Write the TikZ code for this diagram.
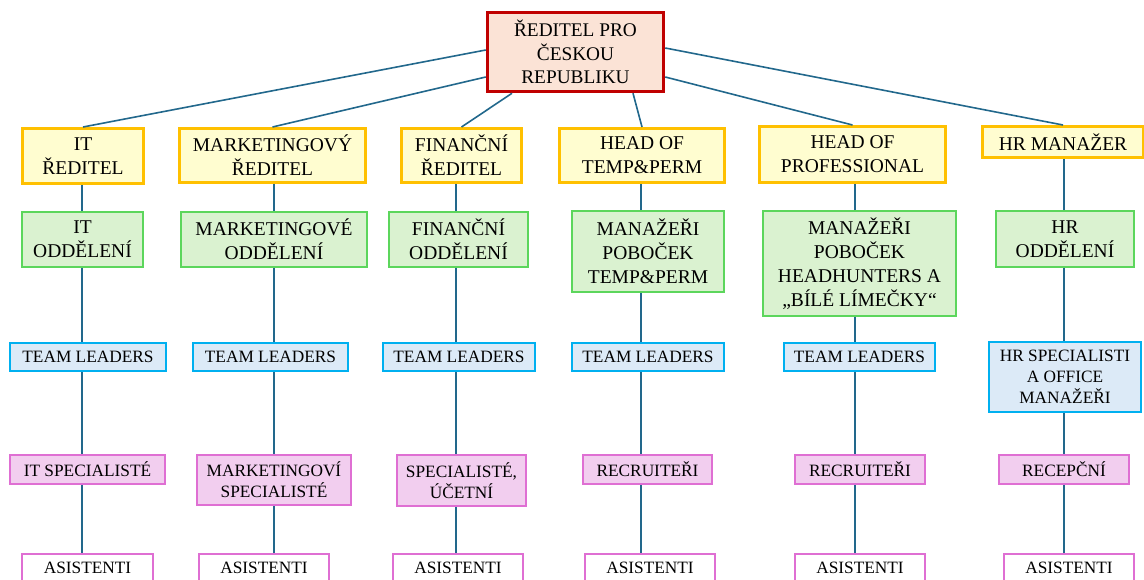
\documentclass[tikz,border=0pt]{standalone}
\usepackage{fontspec}
\setmainfont{Liberation Serif}
\usepackage{tikz}
\usetikzlibrary{calc}
\usepackage{xcolor}
\definecolor{orgRed}{HTML}{C00000}
\definecolor{orgPeach}{HTML}{FBE3D6}
\definecolor{orgGold}{HTML}{FFC000}
\definecolor{orgCream}{HTML}{FFFDD0}
\definecolor{orgGreen}{HTML}{5CD65C}
\definecolor{orgMint}{HTML}{DAF2D0}
\definecolor{orgCyan}{HTML}{00B0F0}
\definecolor{orgSky}{HTML}{DCEAF7}
\definecolor{orgPink}{HTML}{DF6FD3}
\definecolor{orgRose}{HTML}{F2CEEF}
\definecolor{orgLink}{HTML}{22688C}

\begin{document}
\begin{tikzpicture}[
    x=1pt, y=-1pt,
    ceo/.style={draw=orgRed, fill=orgPeach, line width=3.5pt, inner sep=2pt, align=center, font=\fontsize{19.3}{23.5}\selectfont},
    head/.style={draw=orgGold, fill=orgCream, line width=3pt, inner sep=2pt, align=center, font=\fontsize{19.5}{24}\selectfont},
    dept/.style={draw=orgGreen, fill=orgMint, line width=2pt, inner sep=2pt, align=center, font=\fontsize{19.5}{24}\selectfont},
    lead/.style={draw=orgCyan, fill=orgSky, line width=2.5pt, inner sep=2pt, align=center, font=\fontsize{17.3}{21}\selectfont},
    spec/.style={draw=orgPink, fill=orgRose, line width=2pt, inner sep=2pt, align=center, font=\fontsize{17.3}{21}\selectfont},
    asst/.style={draw=orgPink, fill=white, line width=2pt, inner sep=2pt, align=center, font=\fontsize{17.3}{21}\selectfont},
    link/.style={draw=orgLink, line width=1.6pt}
]
    \useasboundingbox (0,0) rectangle (1144,580);

    % Column axes for the vertical lines
    \coordinate (c1) at (82,0);
    \coordinate (c2) at (274,0);
    \coordinate (c3) at (456,0);
    \coordinate (c4) at (641,0);
    \coordinate (c5) at (855,0);
    \coordinate (c6) at (1064,0);

    % Top of the chart
    \node[ceo, minimum width=176pt, minimum height=79pt] (top) at (575.5,52) {ŘEDITEL PRO\\ČESKOU\\REPUBLIKU};

    % Directors
    \node[head, minimum width=121pt, minimum height=55pt] (itdir) at (83,156) {IT\\ŘEDITEL};
    \node[head, minimum width=186pt, minimum height=54pt] (mkdir) at (272.5,155.5) {MARKETINGOVÝ\\ŘEDITEL};
    \node[head, minimum width=120pt, minimum height=54pt] (findir) at (461.5,155.5) {FINANČNÍ\\ŘEDITEL};
    \node[head, minimum width=165pt, minimum height=54pt] (tpdir) at (642,155.5) {HEAD OF\\TEMP\&PERM};
    \node[head, minimum width=186pt, minimum height=56pt] (prdir) at (852.5,154.5) {HEAD OF\\PROFESSIONAL};
    \node[head, minimum width=161pt, minimum height=31pt] (hrdir) at (1063,142) {HR MANAŽER};

    % Departments
    \node[dept, minimum width=121pt, minimum height=55pt] (itdep) at (82.5,239.5) {IT\\ODDĚLENÍ};
    \node[dept, minimum width=186pt, minimum height=55pt] (mkdep) at (274,239.5) {MARKETINGOVÉ\\ODDĚLENÍ};
    \node[dept, minimum width=139pt, minimum height=55pt] (findep) at (458.5,239.5) {FINANČNÍ\\ODDĚLENÍ};
    \node[dept, minimum width=152pt, minimum height=81pt] (tpdep) at (648,251.5) {MANAŽEŘI\\POBOČEK\\TEMP\&PERM};
    \node[dept, minimum width=193pt, minimum height=105pt] (prdep) at (859.5,263.5) {MANAŽEŘI\\POBOČEK\\HEADHUNTERS A\\„BÍLÉ LÍMEČKY“};
    \node[dept, minimum width=138pt, minimum height=56pt] (hrdep) at (1065,239) {HR\\ODDĚLENÍ};

    % Team leaders
    \node[lead, minimum width=156pt, minimum height=28pt] (ittl) at (88,357) {TEAM LEADERS};
    \node[lead, minimum width=155pt, minimum height=28pt] (mktl) at (270.5,357) {TEAM LEADERS};
    \node[lead, minimum width=152pt, minimum height=28pt] (fintl) at (459,357) {TEAM LEADERS};
    \node[lead, minimum width=152pt, minimum height=28pt] (tptl) at (648,357) {TEAM LEADERS};
    \node[lead, minimum width=151pt, minimum height=28pt] (prtl) at (859.5,357) {TEAM LEADERS};
    \node[lead, minimum width=152pt, minimum height=70pt] (hrtl) at (1065,377) {HR SPECIALISTI\\A OFFICE\\MANAŽEŘI};

    % Specialists
    \node[spec, minimum width=155pt, minimum height=29pt] (itsp) at (87.5,469.5) {IT SPECIALISTÉ};
    \node[spec, minimum width=154pt, minimum height=50pt] (mksp) at (274,480) {MARKETINGOVÍ\\SPECIALISTÉ};
    \node[spec, minimum width=129pt, minimum height=51pt] (finsp) at (461.5,480.5) {SPECIALISTÉ,\\ÚČETNÍ};
    \node[spec, minimum width=129pt, minimum height=29pt] (tpsp) at (647.5,469.5) {RECRUITEŘI};
    \node[spec, minimum width=130pt, minimum height=29pt] (prsp) at (860,469.5) {RECRUITEŘI};
    \node[spec, minimum width=130pt, minimum height=29pt] (hrsp) at (1064,469.5) {RECEPČNÍ};

    % Assistants
    \node[asst, minimum width=131pt, minimum height=28pt] (itas) at (87.5,568) {ASISTENTI};
    \node[asst, minimum width=130pt, minimum height=28pt] (mkas) at (264,568) {ASISTENTI};
    \node[asst, minimum width=130pt, minimum height=28pt] (finas) at (458,568) {ASISTENTI};
    \node[asst, minimum width=130pt, minimum height=28pt] (tpas) at (650,568) {ASISTENTI};
    \node[asst, minimum width=130pt, minimum height=28pt] (pras) at (860,568) {ASISTENTI};
    \node[asst, minimum width=130pt, minimum height=28pt] (hras) at (1069,568) {ASISTENTI};

    % Lines from the top box
    \draw[link] ([yshift=2pt]top.west) -- (itdir.north);
    \draw[link] ([yshift=-25pt]top.west) -- (mkdir.north);
    \draw[link] ([xshift=-63.5pt]top.south) -- (findir.north);
    \draw[link] ([xshift=57.5pt]top.south) -- (tpdir.north);
    \draw[link] ([yshift=-25pt]top.east) -- (prdir.north);
    \draw[link] ([yshift=4pt]top.east) -- (hrdir.north);

    % Vertical lines in each column
    \foreach \d/\g/\t/\s/\a/\c in {itdir/itdep/ittl/itsp/itas/c1, mkdir/mkdep/mktl/mksp/mkas/c2,
        findir/findep/fintl/finsp/finas/c3, tpdir/tpdep/tptl/tpsp/tpas/c4,
        prdir/prdep/prtl/prsp/pras/c5, hrdir/hrdep/hrtl/hrsp/hras/c6}{
        \draw[link] (\d.south -| \c) -- (\g.north -| \c);
        \draw[link] (\g.south -| \c) -- (\t.north -| \c);
        \draw[link] (\t.south -| \c) -- (\s.north -| \c);
        \draw[link] (\s.south -| \c) -- (\a.north -| \c);
    }

\end{tikzpicture}
\end{document}
